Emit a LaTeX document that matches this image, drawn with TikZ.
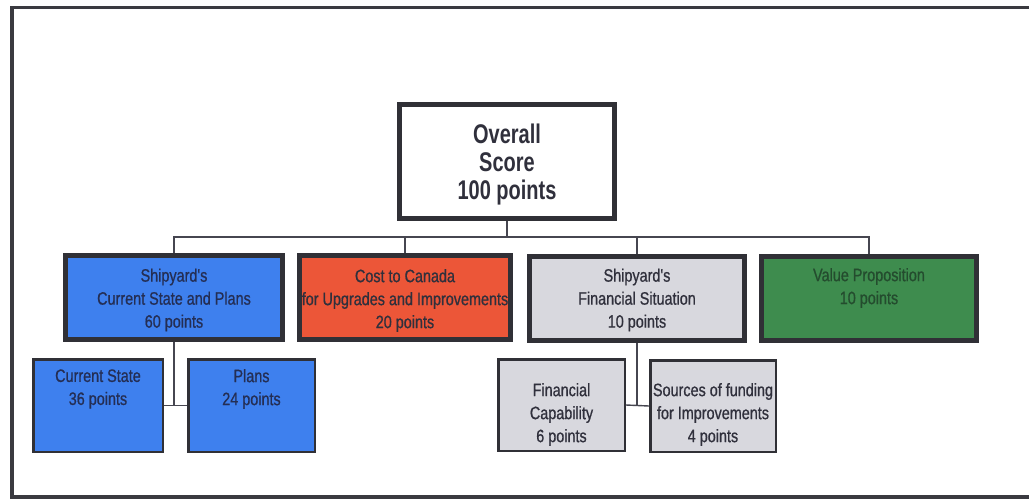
\documentclass[tikz,border=0pt]{standalone}
\usepackage{fontspec}
\setmainfont{Liberation Sans}
\newfontfamily\boxfont[FakeStretch=0.8,FakeBold=0.8]{Liberation Sans}
\newfontfamily\titlefont[FakeStretch=0.74]{Liberation Sans Bold}

\definecolor{frame}{RGB}{58,58,64}
\definecolor{edge}{RGB}{48,48,54}
\definecolor{wire}{RGB}{70,70,80}
\definecolor{ink}{RGB}{48,48,60}
\definecolor{blueink}{RGB}{36,46,84}
\definecolor{greenink}{RGB}{36,76,46}
\definecolor{bluefill}{RGB}{62,128,238}
\definecolor{redfill}{RGB}{236,86,56}
\definecolor{grayfill}{RGB}{216,216,222}
\definecolor{greenfill}{RGB}{62,140,78}

\tikzset{
  topbox/.style={draw=edge, line width=5pt, fill=white, inner sep=0pt},
  midbox/.style={draw=edge, line width=5pt, inner sep=0pt, minimum height=84pt},
  leafbox/.style={draw=edge, line width=2.5pt, inner sep=0pt},
  label text/.style={font=\boxfont\fontsize{18pt}{23pt}\selectfont, text=ink, align=center, inner sep=0pt},
  title text/.style={font=\titlefont\fontsize{27pt}{28pt}\selectfont, text=ink, align=center, inner sep=0pt},
  wire/.style={draw=wire, line width=1.4pt}
}

\begin{document}
\begin{tikzpicture}[x=1pt, y=-1pt]
\clip (0,0) rectangle (1029,499);
\fill[white] (0,0) rectangle (1029,499);

% outer frame (its right side runs past the page edge)
\draw[frame, line width=3.5pt] (1040,7.5) -- (12,7.5) -- (12,497) -- (1040,497);

% top level
\node[topbox, minimum width=215pt, minimum height=114pt] (ov) at (507,161.5) {};
\node[title text] (ov-t) at (507,165) {Overall\\Score\\100 points};

% second level
\node[midbox, fill=bluefill, minimum width=217pt] (blue) at (174,297.5) {};
\node[midbox, fill=redfill, minimum width=211pt] (red) at (405,297.5) {};
\node[midbox, fill=grayfill, minimum width=215pt] (gray) at (637,298.5) {};
\node[midbox, fill=greenfill, minimum width=215pt] (green) at (869,298.5) {};

\node[label text, text=blueink] (blue-t) at (174,300) {Shipyard's\\Current State and Plans\\60 points};
\node[label text] (red-t) at (405,300.5) {Cost to Canada\\for Upgrades and Improvements\\20 points};
\node[label text] (gray-t) at (637,300) {Shipyard's\\Financial Situation\\10 points};
\node[label text, text=greenink] (green-t) at (869,288) {Value Proposition\\10 points};

% third level
\node[leafbox, fill=bluefill, minimum width=129.5pt, minimum height=92.5pt] (cs) at (98,405.5) {};
\node[leafbox, fill=bluefill, minimum width=126.5pt, minimum height=92.5pt] (plans) at (251.5,405.5) {};
\node[leafbox, fill=grayfill, minimum width=126.5pt, minimum height=91.5pt] (fc) at (561.5,405) {};
\node[leafbox, fill=grayfill, minimum width=125.5pt, minimum height=91.5pt] (src) at (713,406) {};

\node[label text, text=blueink] (cs-t) at (98,389) {Current State\\36 points};
\node[label text, text=blueink] (plans-t) at (251.5,389) {Plans\\24 points};
\node[label text] (fc-t) at (561.5,414.5) {Financial\\Capability\\6 points};
\node[label text] (src-t) at (713,414.5) {Sources of funding\\for Improvements\\4 points};

% connectors
\coordinate (bar) at (507,237);
\draw[wire] (ov.south) -- (bar);
\draw[wire] (blue.north) -- (blue.north |- bar) -- (green.north |- bar) -- (green.north);
\draw[wire] (red.north) -- (red.north |- bar);
\draw[wire] (gray.north) -- (gray.north |- bar);

\draw[wire] (blue.south) -- (blue.south |- cs.east);
\draw[wire] (cs.east) -- (plans.west);
\draw[wire] (gray.south) -- (gray.south |- fc.east);
\draw[wire] (fc.east) -- (src.west);
\end{tikzpicture}
\end{document}
